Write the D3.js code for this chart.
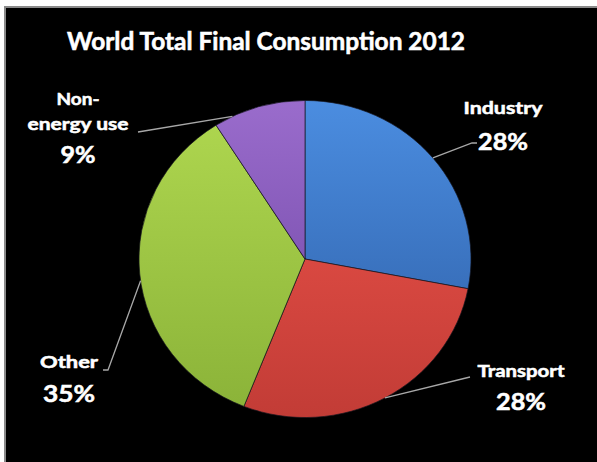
<!DOCTYPE html>
<html>
<head>
<meta charset="utf-8">
<script src="https://cdn.jsdelivr.net/npm/d3@7"></script>
<style>
  html, body { margin: 0; padding: 0; background: #fff; }
  svg { display: block; }
  text { font-family: Lato, "Open Sans", sans-serif; font-weight: 700; fill: #fff;
         stroke: #fff; stroke-width: 0.55; paint-order: stroke; }
</style>
</head>
<body>
<svg id="chart" width="597" height="462"></svg>
<script>
// ---- data ----
const title = "World Total Final Consumption 2012";
const categories = ["Industry", "Transport", "Other", "Non-energy use"];
const values = [28, 28, 35, 9];
const nameLines = [["Industry"], ["Transport"], ["Other"], ["Non-", "energy use"]];
const colorsTop = ["#4b8de0", "#f0554c", "#b0d850", "#9a6ccc"];
const colorsBottom = ["#2c5ca3", "#c23c36", "#8ab238", "#6a42a0"];

// ---- layout ----
const W = 597, H = 462;
const cx = 305, cy = 259, R = 166, squash = 0.955;

// label boxes: centre x, baseline of each name line, baseline of the percentage,
// fitted widths, where the leader meets the slice (fraction of its span) and the leader elbow
const labelLayout = [
  { x: 503, nameY: [114], pctY: 150, nameW: [79], pctW: 50, attach: 0.5,
    leader: [[472, 143], [477, 143]] },
  { x: 521, nameY: [377], pctY: 410, nameW: [87], pctW: 50, attach: 0.5,
    leader: [[470, 377]] },
  { x: 69, nameY: [368], pctY: 402, nameW: [58], pctW: 52, attach: 0.48,
    leader: [[108, 370], [103, 370]] },
  { x: 78, nameY: [105, 130], pctY: 163, nameW: [43, 101], pctW: 35, attach: 0.2,
    leader: [[138, 132]] }
];

const svg = d3.select("#chart");

// page frame
svg.append("rect").attr("width", W).attr("height", H).attr("fill", "#fff");
svg.append("rect")
  .attr("x", 5).attr("y", 7).attr("width", W).attr("height", H)
  .attr("fill", "#000").attr("stroke", "#8a8a8a").attr("stroke-width", 2);

// title
svg.append("text")
  .attr("x", 266).attr("y", 50)
  .attr("text-anchor", "middle")
  .attr("font-size", 24)
  .attr("textLength", 398).attr("lengthAdjust", "spacingAndGlyphs")
  .text(title);

// gradients, one per slice, running top to bottom of the pie
const defs = svg.append("defs");
categories.forEach((c, i) => {
  const g = defs.append("linearGradient")
    .attr("id", "grad" + i)
    .attr("gradientUnits", "userSpaceOnUse")
    .attr("x1", 0).attr("x2", 0)
    .attr("y1", -R).attr("y2", R);
  g.append("stop").attr("offset", "0%").attr("stop-color", colorsTop[i]);
  g.append("stop").attr("offset", "100%").attr("stop-color", colorsBottom[i]);
});

const pie = d3.pie().sort(null).value(d => d);
const arcs = pie(values);
const arc = d3.arc().innerRadius(0).outerRadius(R);

const pieG = svg.append("g")
  .attr("transform", `translate(${cx},${cy}) scale(1,${squash})`);

pieG.selectAll("path")
  .data(arcs)
  .join("path")
  .attr("d", arc)
  .attr("fill", (d, i) => `url(#grad${i})`)
  .attr("stroke", "rgba(20,20,30,0.7)")
  .attr("stroke-width", 1);

// point on the pie rim at a fraction of a slice's angular span
function rimPoint(d, f) {
  const a = d.startAngle + f * (d.endAngle - d.startAngle);
  return [cx + R * Math.sin(a), cy - R * Math.cos(a) * squash];
}

const fmt = v => d3.format("d")(v) + "%";

arcs.forEach((d, i) => {
  const L = labelLayout[i];
  const pts = [rimPoint(d, L.attach), ...L.leader];
  svg.append("path")
    .attr("d", d3.line()(pts))
    .attr("fill", "none")
    .attr("stroke", "#a8a8a8")
    .attr("stroke-width", 1.3);

  nameLines[i].forEach((line, k) => {
    svg.append("text")
      .attr("x", L.x).attr("y", L.nameY[k])
      .attr("text-anchor", "middle")
      .attr("font-size", 17.5)
      .attr("textLength", L.nameW[k]).attr("lengthAdjust", "spacingAndGlyphs")
      .text(line);
  });
  svg.append("text")
    .attr("x", L.x).attr("y", L.pctY)
    .attr("text-anchor", "middle")
    .attr("font-size", 23)
    .attr("textLength", L.pctW).attr("lengthAdjust", "spacingAndGlyphs")
    .text(fmt(d.data));
});
</script>
</body>
</html>
